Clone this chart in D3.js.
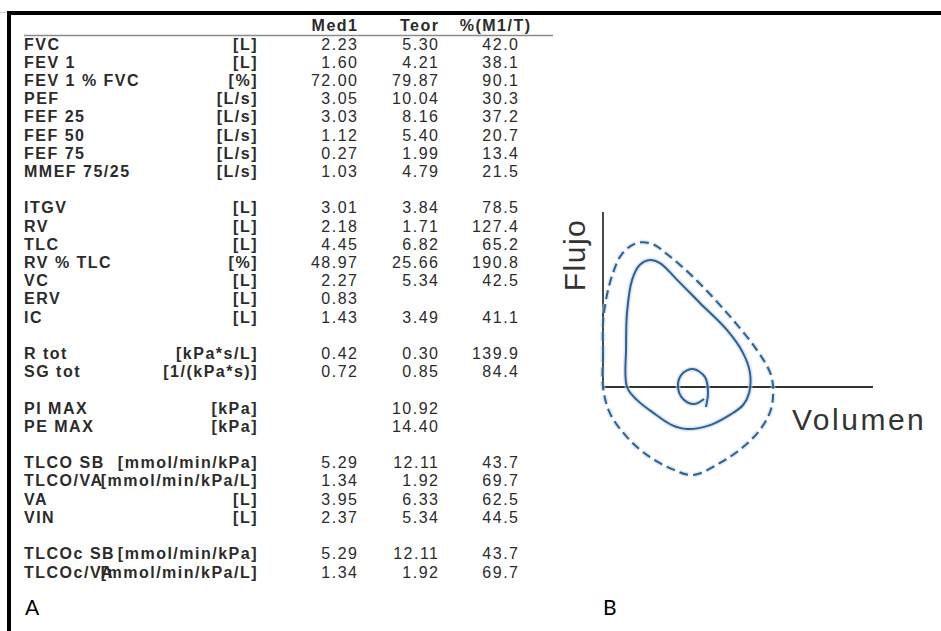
<!DOCTYPE html>
<html>
<head>
<meta charset="utf-8">
<script src="https://cdn.jsdelivr.net/npm/d3@7"></script>
<style>
  html, body { margin: 0; padding: 0; background: #fff; }
  svg { display: block; }
</style>
</head>
<body>
<svg id="fig" width="941" height="631"></svg>
<script>
// ---- Panel A: lung function table (blank strings mark spacer rows) ----
const paramNames = [
  "FVC", "FEV 1", "FEV 1 % FVC", "PEF", "FEF 25", "FEF 50", "FEF 75", "MMEF 75/25", "",
  "ITGV", "RV", "TLC", "RV % TLC", "VC", "ERV", "IC", "",
  "R tot", "SG tot", "",
  "PI MAX", "PE MAX", "",
  "TLCO SB", "TLCO/VA", "VA", "VIN", "",
  "TLCOc SB", "TLCOc/VA"
];
const paramUnits = [
  "[L]", "[L]", "[%]", "[L/s]", "[L/s]", "[L/s]", "[L/s]", "[L/s]", "",
  "[L]", "[L]", "[L]", "[%]", "[L]", "[L]", "[L]", "",
  "[kPa*s/L]", "[1/(kPa*s)]", "",
  "[kPa]", "[kPa]", "",
  "[mmol/min/kPa]", "[mmol/min/kPa/L]", "[L]", "[L]", "",
  "[mmol/min/kPa]", "[mmol/min/kPa/L]"
];
const med1Values = [
  2.23, 1.60, 72.00, 3.05, 3.03, 1.12, 0.27, 1.03, null,
  3.01, 2.18, 4.45, 48.97, 2.27, 0.83, 1.43, null,
  0.42, 0.72, null,
  null, null, null,
  5.29, 1.34, 3.95, 2.37, null,
  5.29, 1.34
];
const teorValues = [
  5.30, 4.21, 79.87, 10.04, 8.16, 5.40, 1.99, 4.79, null,
  3.84, 1.71, 6.82, 25.66, 5.34, null, 3.49, null,
  0.30, 0.85, null,
  10.92, 14.40, null,
  12.11, 1.92, 6.33, 5.34, null,
  12.11, 1.92
];
const pctValues = [
  42.0, 38.1, 90.1, 30.3, 37.2, 20.7, 13.4, 21.5, null,
  78.5, 127.4, 65.2, 190.8, 42.5, null, 41.1, null,
  139.9, 84.4, null,
  null, null, null,
  43.7, 69.7, 62.5, 44.5, null,
  43.7, 69.7
];
const headerLabels = ["Med1", "Teor", "%(M1/T)"];

// ---- Panel B: schematic flow-volume loops (volume in L, flow in L/s) ----
const predictedLoopVol  = [0.00, 0.00, 0.00, 0.10, 0.30, 0.63, 1.13, 1.63, 2.17, 3.00, 4.13, 5.13, 5.60, 5.67, 5.57, 5.23, 4.67, 3.90, 3.00, 2.23, 1.47, 0.80, 0.23];
const predictedLoopFlow = [0.00, 1.07, 2.13, 2.90, 3.70, 4.43, 4.80, 4.77, 4.40, 3.67, 2.47, 1.23, 0.40, -0.27, -0.83, -1.43, -2.00, -2.53, -2.93, -2.70, -2.27, -1.67, -0.87];
const measuredLoopVol   = [0.80, 0.77, 0.80, 0.97, 1.23, 1.57, 1.90, 2.47, 3.23, 4.13, 4.67, 4.90, 4.87, 4.67, 4.23, 3.57, 2.80, 2.30, 1.73, 1.13];
const measuredLoopFlow  = [0.00, 1.33, 2.47, 3.57, 4.07, 4.23, 4.13, 3.57, 2.80, 1.90, 1.13, 0.47, -0.20, -0.60, -0.93, -1.27, -1.40, -1.27, -0.90, -0.43];
const tidalLoopVol      = [3.43, 3.50, 3.40, 3.00, 2.63, 2.50, 2.67, 3.03, 3.37];
const tidalLoopFlow     = [-0.67, -0.17, 0.33, 0.60, 0.43, 0.00, -0.40, -0.57, -0.40];
const axisVolumeMax = 9;
const axisFlowMax = 5.83;
const axisTitles = ["Volumen", "Flujo"];
const panelLetters = ["A", "B"];

const svg = d3.select("#fig");
const ink = "#2b2b2b";
const tableFont = "'Liberation Sans', Arial, Helvetica, sans-serif";

// frame (top and left rules)
svg.append("line").attr("x1", 0).attr("x2", 8).attr("y1", 12.5).attr("y2", 12.5)
  .attr("stroke", "#d0d0d0").attr("stroke-width", 1);
svg.append("line").attr("x1", 7).attr("x2", 941).attr("y1", 13).attr("y2", 13)
  .attr("stroke", "#000").attr("stroke-width", 4);
svg.append("line").attr("x1", 9).attr("x2", 9).attr("y1", 11).attr("y2", 631)
  .attr("stroke", "#000").attr("stroke-width", 4);

// ---- table ----
const rowY = d3.scalePoint().domain(d3.range(paramNames.length)).range([49.5, 577.5]);
const colRight = { unit: 258, med: 358.5, teor: 439.5, pct: 519.5 };
const fmt2 = d3.format(".2f"), fmt1 = d3.format(".1f");
const table = svg.append("g")
  .attr("font-family", tableFont).attr("font-size", 16).attr("fill", ink)
  .attr("letter-spacing", "1.5px");

// header
table.selectAll("text.hdr").data(headerLabels).join("text")
  .attr("class", "hdr")
  .attr("x", (d, i) => [colRight.med, colRight.teor, colRight.pct + 12][i])
  .attr("y", 31)
  .attr("text-anchor", "end")
  .attr("font-weight", "bold")
  .text(d => d);
svg.append("line").attr("x1", 24).attr("x2", 553).attr("y1", 35.5).attr("y2", 35.5)
  .attr("stroke", "#8a8a8a").attr("stroke-width", 1.5);

const rows = table.selectAll("g.row").data(d3.range(paramNames.length)).join("g")
  .attr("class", "row")
  .attr("transform", i => `translate(0,${rowY(i)})`);
rows.append("text").attr("x", 24).attr("font-weight", "bold").text(i => paramNames[i]);
rows.append("text").attr("x", colRight.unit).attr("text-anchor", "end")
  .attr("font-weight", "bold").text(i => paramUnits[i]);
rows.append("text").attr("x", colRight.med).attr("text-anchor", "end")
  .text(i => med1Values[i] == null ? "" : fmt2(med1Values[i]));
rows.append("text").attr("x", colRight.teor).attr("text-anchor", "end")
  .text(i => teorValues[i] == null ? "" : fmt2(teorValues[i]));
rows.append("text").attr("x", colRight.pct).attr("text-anchor", "end")
  .text(i => pctValues[i] == null ? "" : fmt1(pctValues[i]));

// ---- flow-volume diagram ----
const x = d3.scaleLinear().domain([0, axisVolumeMax]).range([603, 873]);
const y = d3.scaleLinear().domain([0, axisFlowMax]).range([387, 212]);
const plot = svg.append("g");

// axes
plot.append("line").attr("x1", x(0)).attr("x2", x(0)).attr("y1", y(axisFlowMax)).attr("y2", y(0))
  .attr("stroke", "#4a4a4a").attr("stroke-width", 2);
plot.append("line").attr("x1", x(0)).attr("x2", x(axisVolumeMax)).attr("y1", y(0)).attr("y2", y(0))
  .attr("stroke", "#333").attr("stroke-width", 2);

const zipPts = (vs, fs) => vs.map((v, i) => [v, fs[i]]);
const closedLine = d3.line().x(d => x(d[0])).y(d => y(d[1])).curve(d3.curveCatmullRomClosed.alpha(0.5));
const openLine = d3.line().x(d => x(d[0])).y(d => y(d[1])).curve(d3.curveCatmullRom.alpha(0.5));

const loops = [
  { pts: zipPts(predictedLoopVol, predictedLoopFlow), gen: closedLine, dash: "9,5" },
  { pts: zipPts(measuredLoopVol, measuredLoopFlow), gen: closedLine, dash: null },
  { pts: zipPts(tidalLoopVol, tidalLoopFlow), gen: openLine, dash: null }
];
const loopColor = "#2f5f93";
// soft halo under each trace
plot.selectAll("path.halo").data(loops).join("path")
  .attr("class", "halo")
  .attr("d", d => d.gen(d.pts))
  .attr("fill", "none").attr("stroke", "#b9d6f0").attr("stroke-width", 5)
  .attr("stroke-opacity", 0.55)
  .attr("stroke-dasharray", d => d.dash);
plot.selectAll("path.loop").data(loops).join("path")
  .attr("class", "loop")
  .attr("d", d => d.gen(d.pts))
  .attr("fill", "none").attr("stroke", loopColor).attr("stroke-width", 2)
  .attr("stroke-linejoin", "round")
  .attr("stroke-dasharray", d => d.dash);

// axis titles
plot.append("text").attr("x", 792).attr("y", 430)
  .attr("font-family", "'Liberation Sans', Arial, sans-serif").attr("font-size", 30)
  .attr("letter-spacing", "2.5px").attr("fill", "#333").text(axisTitles[0]);
plot.append("text").attr("transform", "translate(585,255) rotate(-90)")
  .attr("text-anchor", "middle")
  .attr("font-family", "'Liberation Sans', Arial, sans-serif").attr("font-size", 30)
  .attr("letter-spacing", "1.5px").attr("fill", "#333").text(axisTitles[1]);

// panel letters
svg.selectAll("text.panel").data(panelLetters).join("text")
  .attr("class", "panel")
  .attr("x", (d, i) => [25, 603][i]).attr("y", 615)
  .attr("font-family", "Lato, 'Open Sans', sans-serif").attr("font-size", 21)
  .attr("fill", "#000").text(d => d);
</script>
</body>
</html>
